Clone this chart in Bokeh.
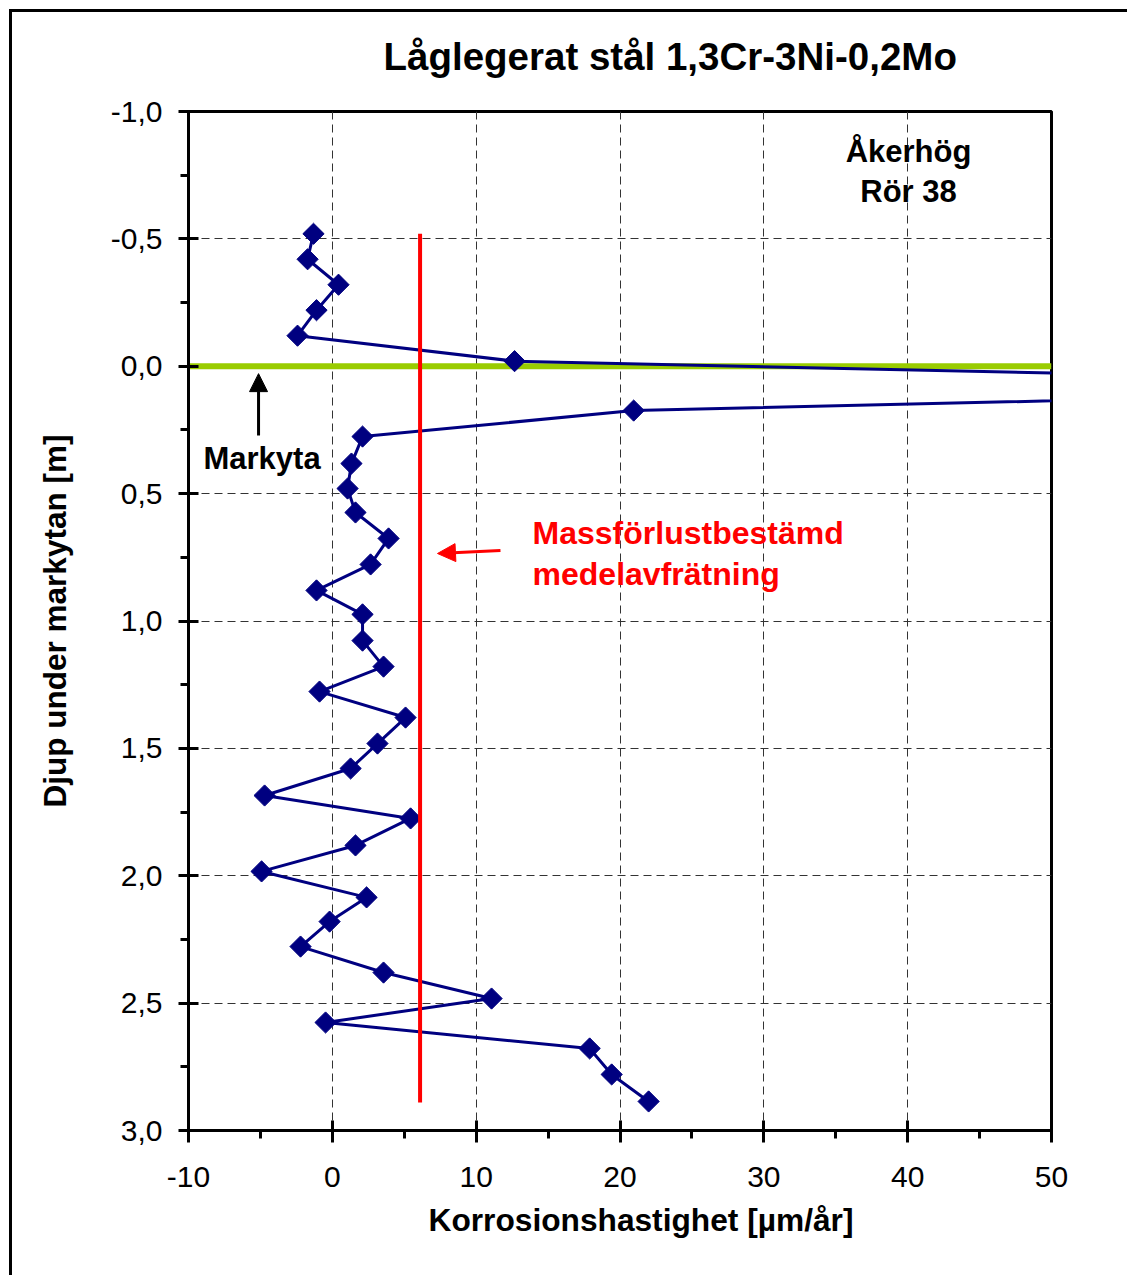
import numpy as np
from bokeh.plotting import figure
from bokeh.models import (Range1d, SingleIntervalTicker, CustomJSTickFormatter, Label,
                          Arrow, NormalHead, Title)
from bokeh.embed import file_html
from bokeh.resources import INLINE

# Corrosion rate [µm/år] versus depth below ground surface [m]
corr_rate = [-1.31, -1.72, 0.43, -1.10, -2.42, 12.67, 92.3, 20.95, 2.10, 1.33,
             1.06, 1.61, 3.91, 2.66, -1.10, 2.10, 2.10, 3.56, -0.89, 5.09,
             3.14, 1.27, -4.71, 5.44, 1.61, -4.92, 2.38, -0.19, -2.21, 3.56,
             11.07, -0.47, 17.89, 19.42, 21.99]
depth = [-0.52, -0.42, -0.32, -0.22, -0.12, -0.02, 0.08, 0.174, 0.276, 0.382,
         0.48, 0.574, 0.676, 0.778, 0.88, 0.974, 1.077, 1.179, 1.277, 1.379,
         1.481, 1.579, 1.685, 1.775, 1.881, 1.983, 2.085, 2.18, 2.278, 2.38,
         2.482, 2.576, 2.678, 2.78, 2.886]

# Mean corrosion from mass loss
mean_x = [6.1, 6.1]
mean_y = [-0.52, 2.89]

# Ground surface
ground_x = [-10, 50]
ground_y = [0.0, 0.0]

title_text = "Låglegerat stål 1,3Cr-3Ni-0,2Mo"
x_label = "Korrosionshastighet [µm/år]"
y_label = "Djup under markytan [m]"
site_lines = ["Åkerhög", "Rör 38"]
mean_lines = ["Massförlustbestämd", "medelavfrätning"]
ground_label = "Markyta"

FONT = "Liberation Sans"

# Chart-area frame drawn as CSS backgrounds behind a transparent canvas border
frame_css = ("linear-gradient(#000, #000) 8.5px 8.5px / 3px 100% no-repeat, "
             "linear-gradient(#000, #000) 8.5px 8.5px / 100% 3px no-repeat, #fff")

p = figure(width=1127, height=1275, output_backend="svg", toolbar_location=None,
           x_range=Range1d(-10, 50), y_range=Range1d(3.0, -1.0),
           min_border_left=188, min_border_right=76, min_border_top=111,
           min_border_bottom=145, styles={"background": frame_css})
p.background_fill_color = "white"
p.border_fill_alpha = 0
p.outline_line_color = "black"
p.outline_line_width = 3

p.xaxis.ticker = SingleIntervalTicker(interval=10, num_minor_ticks=2)
p.yaxis.ticker = SingleIntervalTicker(interval=0.5, num_minor_ticks=2)
p.xaxis.formatter = CustomJSTickFormatter(code="return tick.toFixed(0);")
p.yaxis.formatter = CustomJSTickFormatter(code="return tick.toFixed(1).replace('.', ',');")

for ax in (p.xaxis, p.yaxis):
    ax.axis_line_width = 3
    ax.axis_line_color = "black"
    ax.major_tick_line_width = 3
    ax.minor_tick_line_width = 3
    ax.major_tick_in = 10
    ax.minor_tick_in = 0
    ax.minor_tick_out = 8
    ax.major_label_text_font = FONT
    ax.major_label_text_font_size = "30px"
    ax.major_label_text_color = "black"
p.xaxis.major_tick_out = 12
p.xaxis.major_label_standoff = 24
p.yaxis.major_tick_out = 10
p.yaxis.major_label_standoff = 16

p.yaxis.axis_label = y_label
p.yaxis.axis_label_text_font = FONT
p.yaxis.axis_label_text_font_style = "bold"
p.yaxis.axis_label_text_font_size = "31.5px"
p.yaxis.axis_label_text_color = "black"
p.yaxis.axis_label_standoff = 35

for g in (p.xgrid, p.ygrid):
    g.grid_line_color = "#333333"
    g.grid_line_width = 1
    g.grid_line_dash = "8 5"

p.add_layout(Title(text=title_text, text_font=FONT, text_font_style="bold",
                   text_font_size="38.5px", text_color="black", align="left",
                   offset=195, vertical_align="top", standoff=64), "above")
p.add_layout(Title(text=x_label, text_font=FONT, text_font_style="bold",
                   text_font_size="31.7px", text_color="black", align="left",
                   offset=240, vertical_align="top", standoff=24), "below")

p.line(ground_x, ground_y, line_color="#99CC00", line_width=6)
p.line(corr_rate, depth, line_color="#000080", line_width=3)
p.scatter(corr_rate, depth, marker="square", size=15, angle=np.pi / 4,
          fill_color="#000080", line_color="#000080")
p.line(mean_x, mean_y, line_color="#FF0000", line_width=4)

# Texts inside the plot area
for txt, yy in zip(site_lines, [-0.843, -0.686]):
    p.add_layout(Label(x=40.06, y=yy, text=txt, text_font=FONT, text_font_style="bold",
                       text_font_size="31px", text_color="black", text_align="center",
                       text_baseline="middle"))
for txt, yy in zip(mean_lines, [0.653, 0.817]):
    p.add_layout(Label(x=13.92, y=yy, text=txt, text_font=FONT, text_font_style="bold",
                       text_font_size="32px", text_color="#FF0000", text_align="left",
                       text_baseline="middle"))
p.add_layout(Label(x=-8.96, y=0.362, text=ground_label, text_font=FONT, text_font_style="bold",
                   text_font_size="31px", text_color="black", text_align="left",
                   text_baseline="middle"))

# Arrows
p.add_layout(Arrow(end=NormalHead(size=18, fill_color="black", line_color="black"),
                   x_start=-5.13, y_start=0.272, x_end=-5.13, y_end=0.029,
                   line_color="black", line_width=3))
p.add_layout(Arrow(end=NormalHead(size=18, fill_color="#FF0000", line_color="#FF0000"),
                   x_start=11.69, y_start=0.723, x_end=7.31, y_end=0.735,
                   line_color="#FF0000", line_width=3))

open("out.html", "w").write(file_html(p, INLINE))
